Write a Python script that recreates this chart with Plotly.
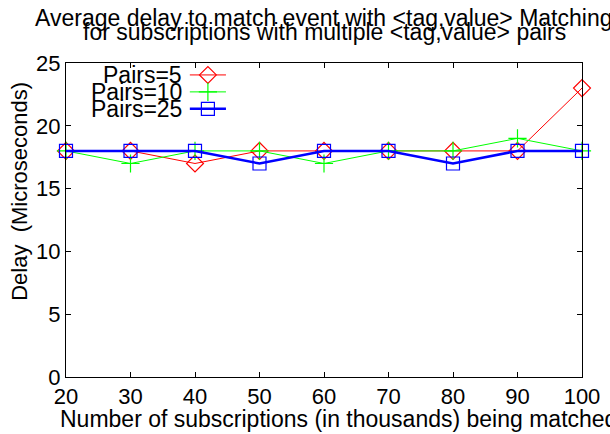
import plotly.graph_objects as go

subs = [20, 30, 40, 50, 60, 70, 80, 90, 100]
pairs5 = [18, 18, 17, 18, 18, 18, 18, 18, 23]
pairs10 = [18, 17, 18, 18, 17, 18, 18, 19, 18]
pairs25 = [18, 18, 18, 17, 18, 18, 17, 18, 18]

series = [
    ("Pairs=5", pairs5, "#ff0000", "diamond-open", 13, 1),
    ("Pairs=10", pairs10, "#00ff00", "cross-thin-open", 13, 1),
    ("Pairs=25", pairs25, "#0000ff", "square-open", 13, 2.5),
]

FONT = "Liberation Sans, Arial, sans-serif"
FS = 23

fig = go.Figure()

legend_y = [0.962, 0.908, 0.854]
for i, (name, vals, color, sym, size, width) in enumerate(series):
    fig.add_trace(go.Scatter(
        x=subs, y=vals, mode="lines+markers", name=name,
        line=dict(color=color, width=width),
        marker=dict(symbol=sym, size=size, color=color,
                    line=dict(color=color, width=1.2)),
        showlegend=False, cliponaxis=False
    ))
    # legend sample on a hidden 0-1 axis (gnuplot style: text then line)
    ly = legend_y[i]
    fig.add_trace(go.Scatter(
        x=[0.24, 0.31], y=[ly, ly], mode="lines",
        line=dict(color=color, width=width),
        xaxis="x2", yaxis="y2", showlegend=False, hoverinfo="skip"
    ))
    fig.add_trace(go.Scatter(
        x=[0.275], y=[ly], mode="markers",
        marker=dict(symbol=sym, size=size, color=color,
                    line=dict(color=color, width=1.2)),
        xaxis="x2", yaxis="y2", showlegend=False, hoverinfo="skip"
    ))
    fig.add_annotation(
        text=name, xref="paper", yref="paper", x=0.228, y=ly,
        xanchor="right", yanchor="middle", showarrow=False,
        font=dict(size=FS, color="black", family=FONT)
    )

axis_common = dict(
    showgrid=False, zeroline=False, showline=True, linecolor="black",
    linewidth=1, mirror="allticks", ticks="inside", ticklen=5,
    tickcolor="black", tickfont=dict(size=22, color="black", family=FONT),
    automargin=False,
)

fig.update_layout(
    width=610, height=434,
    margin=dict(l=66, r=28, t=63, b=57),
    plot_bgcolor="white", paper_bgcolor="white",
    font=dict(family=FONT, color="black"),
    xaxis=dict(range=[20, 100], tickvals=subs, **axis_common),
    yaxis=dict(range=[0, 25], tickvals=[0, 5, 10, 15, 20, 25], **axis_common),
    xaxis2=dict(range=[0, 1], overlaying="x", visible=False),
    yaxis2=dict(range=[0, 1], overlaying="y", visible=False),
)

# titles and axis labels
fig.add_annotation(
    text="Average delay to match event with <tag,value> Matching",
    xref="paper", yref="paper", x=0.5, y=1.0, yshift=45,
    xanchor="center", yanchor="middle", showarrow=False,
    font=dict(size=FS, family=FONT)
)
fig.add_annotation(
    text="for subscriptions with multiple <tag,value> pairs",
    xref="paper", yref="paper", x=0.5, y=1.0, yshift=31,
    xanchor="center", yanchor="middle", showarrow=False,
    font=dict(size=FS, family=FONT)
)
fig.add_annotation(
    text="Number of subscriptions (in thousands) being matched",
    xref="paper", yref="paper", x=-0.016, y=0.0, yshift=-42,
    xanchor="left", yanchor="middle", showarrow=False,
    font=dict(size=FS, family=FONT)
)
fig.add_annotation(
    text="Delay  (Microseconds)", textangle=-90,
    xref="paper", yref="paper", x=-0.089, y=0.59,
    xanchor="center", yanchor="middle", showarrow=False,
    font=dict(size=22, family=FONT)
)

fig.write_html("out.html", config={"displayModeBar": False},
               post_script="document.body.style.margin='0';")
